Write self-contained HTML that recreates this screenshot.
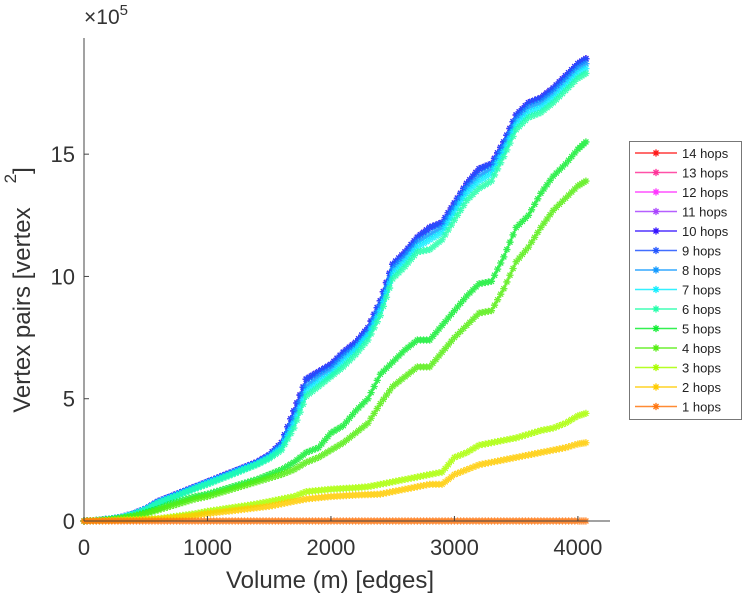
<!DOCTYPE html>
<html><head><meta charset="utf-8"><style>
body{margin:0;background:#fff;}
svg{display:block;font-family:"Liberation Sans",sans-serif;}
</style></head><body>
<svg id="chart" width="748" height="600" viewBox="0 0 748 600">
<g id="plot"></g>
<g id="axes"></g>
<g id="legend"></g>
</svg>
<script>
const xs = [0,100,200,300,400,500,600,700,800,900,1000,1100,1200,1300,1400,1500,1600,1700,1800,1900,2000,2100,2200,2300,2400,2500,2600,2700,2800,2900,3000,3100,3200,3300,3400,3500,3600,3700,3800,3900,4000,4065];
const top9 = [0,0.02,0.08,0.15,0.3,0.5,0.8,1.0,1.2,1.4,1.6,1.8,2.0,2.2,2.4,2.7,3.2,4.5,5.8,6.1,6.4,6.9,7.3,7.9,9.0,10.5,11.0,11.6,12.0,12.2,13.0,13.8,14.4,14.6,15.5,16.6,17.1,17.3,17.7,18.2,18.7,18.9];
const s8 = [0,0.02,0.08,0.15,0.3,0.5,0.78,0.98,1.18,1.38,1.58,1.77,1.97,2.17,2.36,2.65,3.1,4.2,5.5,5.9,6.2,6.7,7.1,7.7,8.8,10.3,10.8,11.4,11.7,12.0,12.8,13.6,14.1,14.4,15.3,16.4,16.9,17.1,17.5,18.0,18.5,18.7];
const s7 = [0,0.02,0.08,0.15,0.28,0.48,0.76,0.95,1.15,1.35,1.55,1.74,1.94,2.14,2.33,2.6,3.0,4.0,5.3,5.7,6.0,6.5,7.0,7.6,8.6,10.1,10.6,11.2,11.5,11.8,12.6,13.4,13.9,14.2,15.1,16.2,16.7,16.9,17.3,17.8,18.3,18.5];
const s6 = [0,0.02,0.07,0.14,0.27,0.46,0.73,0.92,1.12,1.32,1.5,1.7,1.9,2.1,2.3,2.55,2.9,3.8,5.1,5.5,5.9,6.3,6.8,7.4,8.4,9.9,10.4,11.0,11.1,11.5,12.3,13.1,13.6,13.9,14.9,16.0,16.5,16.7,17.1,17.6,18.1,18.3];
const s5 = [0,0.02,0.06,0.12,0.2,0.35,0.5,0.7,0.85,1.0,1.1,1.25,1.4,1.55,1.7,1.9,2.1,2.4,2.8,3.0,3.6,3.9,4.5,5.0,6.0,6.5,7.0,7.4,7.4,8.0,8.6,9.2,9.7,9.8,10.8,12.0,12.5,13.4,14.1,14.6,15.2,15.5];
const s4 = [0,0.02,0.06,0.12,0.2,0.3,0.45,0.6,0.75,0.9,1.0,1.15,1.3,1.45,1.6,1.75,1.9,2.1,2.4,2.6,2.9,3.2,3.6,4.0,4.8,5.5,5.9,6.3,6.3,6.9,7.5,8.0,8.5,8.6,9.5,10.6,11.2,12.0,12.7,13.2,13.7,13.9];
const s3 = [0,0.01,0.02,0.04,0.06,0.08,0.1,0.16,0.23,0.3,0.4,0.47,0.55,0.62,0.7,0.8,0.9,1.0,1.2,1.25,1.3,1.33,1.36,1.4,1.5,1.6,1.7,1.8,1.9,2.0,2.6,2.8,3.1,3.2,3.3,3.4,3.55,3.7,3.8,4.0,4.3,4.4];
const s2 = [0,0.01,0.02,0.03,0.04,0.06,0.08,0.12,0.17,0.22,0.3,0.36,0.42,0.48,0.54,0.6,0.7,0.8,0.9,0.95,1.0,1.03,1.06,1.08,1.1,1.2,1.3,1.4,1.5,1.5,1.9,2.1,2.3,2.4,2.5,2.6,2.7,2.8,2.9,3.0,3.15,3.2];
const s1 = [0,0,0,0,0,0,0,0,0,0,0,0,0,0,0,0,0,0,0,0,0,0,0,0,0,0,0,0,0,0,0,0,0,0,0,0,0,0,0,0,0,0];
const seriesNames = ["14 hops","13 hops","12 hops","11 hops","10 hops","9 hops","8 hops","7 hops","6 hops","5 hops","4 hops","3 hops","2 hops","1 hops"];
const seriesData = [top9,top9,top9,top9,top9,top9,s8,s7,s6,s5,s4,s3,s2,s1];
const colors = ["#ff1a1a","#ff3399","#ff33ff","#aa44ff","#3311ff","#2255ff","#1199ff","#11eeff","#22ffaa","#11ee33","#55ee11","#aaff00","#ffcc00","#ff7711"];
const xTicks = [0,1000,2000,3000,4000];
const yTicks = [0,5,10,15];

const NS = "http://www.w3.org/2000/svg";
const X0=84, X1=610, XMAX=4260, Y0=521, YT=38, YMAX=19.75;
function sx(v){return X0+(v/XMAX)*(X1-X0);}
function sy(v){return Y0-(v/YMAX)*(Y0-YT);}
function mk(tag,attrs,parent){const e=document.createElementNS(NS,tag);for(const k in attrs)e.setAttribute(k,attrs[k]);parent.appendChild(e);return e;}
function star(g,x,y,c,r){
  mk("path",{d:`M${x-r},${y}H${x+r}M${x},${y-r}V${y+r}M${x-r*0.7},${y-r*0.7}L${x+r*0.7},${y+r*0.7}M${x-r*0.7},${y+r*0.7}L${x+r*0.7},${y-r*0.7}`,stroke:c,"stroke-width":1.3,fill:"none"},g);
}
const plot=document.getElementById("plot");
for(let s=0;s<seriesData.length;s++){
  const g=mk("g",{opacity:0.85},plot);
  
  
  const d=seriesData[s];
  let p="";
  for(let i=0;i<xs.length;i++)p+=(i?"L":"M")+sx(xs[i]).toFixed(1)+","+sy(d[i]).toFixed(1);
  mk("path",{d:p,stroke:colors[s],"stroke-width":1.8,fill:"none"},g);
  for(let i=0;i<xs.length-1;i++){
    for(let k=0;k<4;k++){
      const t=k/4;
      const xv=xs[i]+(xs[i+1]-xs[i])*t, yv=d[i]+(d[i+1]-d[i])*t;
      star(g,sx(xv),sy(yv),colors[s],3.6);
    }
  }
  star(g,sx(xs[xs.length-1]),sy(d[d.length-1]),colors[s],3.6);
}
const axes=document.getElementById("axes");
const ya=mk("line",{x1:X0,y1:YT,x2:X0,y2:Y0,stroke:"#444","stroke-width":1},axes);

const xa=mk("line",{x1:X0,y1:Y0,x2:X1,y2:Y0,stroke:"#444","stroke-width":1},axes);

for(const t of xTicks){
  mk("line",{x1:sx(t),y1:Y0,x2:sx(t),y2:Y0-5,stroke:"#444"},axes);
  const tx=mk("text",{x:sx(t),y:Y0+34,"text-anchor":"middle","font-size":22,fill:"#333"},axes);
  tx.textContent=t;
  
}
for(const t of yTicks){
  mk("line",{x1:X0,y1:sy(t),x2:X0+5,y2:sy(t),stroke:"#444"},axes);
  const tx=mk("text",{x:X0-9,y:sy(t)+8,"text-anchor":"end","font-size":22,fill:"#333"},axes);
  tx.textContent=t;
  
}
const mult=mk("text",{x:84,y:24,"font-size":21,fill:"#333"},axes);
mult.innerHTML='×10<tspan font-size="15" dy="-9">5</tspan>';

const xt=mk("text",{x:330,y:588,"text-anchor":"middle","font-size":24,fill:"#333"},axes);
xt.textContent="Volume (m) [edges]";

const yt=mk("text",{x:0,y:0,"text-anchor":"middle","font-size":24,fill:"#333",transform:"translate(30,290) rotate(-90)"},axes);
yt.innerHTML='Vertex pairs [vertex<tspan font-size="17" dy="-14" dx="24">2</tspan><tspan dy="14">]</tspan>';


const lg=document.getElementById("legend");
mk("rect",{x:629.5,y:141.5,width:112,height:278,fill:"#fff",stroke:"#777","stroke-width":1},lg);
for(let s=0;s<seriesNames.length;s++){
  const y=153+s*19.5;
  const e=mk("g",{},lg);
  
  
  mk("line",{x1:635,y1:y,x2:677,y2:y,stroke:colors[s],"stroke-width":1.5,opacity:0.85},e);
  star(e,656,y,colors[s],3.6);
  const t=mk("text",{x:682,y:y+5,"font-size":13,fill:"#222"},e);
  t.textContent=seriesNames[s];
}
</script>
</body></html>
